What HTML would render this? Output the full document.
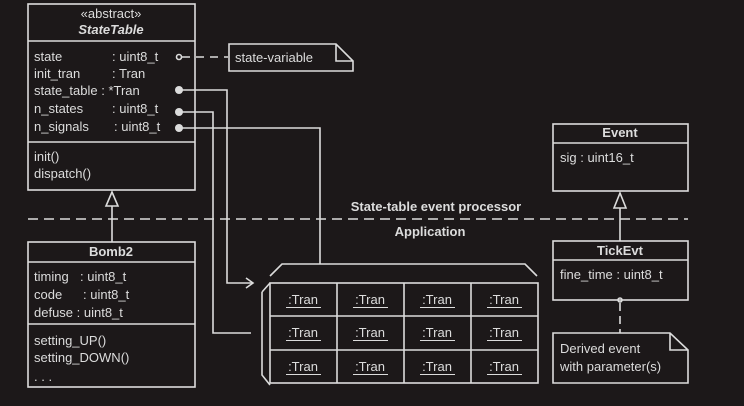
<!DOCTYPE html>
<html><head><meta charset="utf-8"><style>
body{margin:0;background:#1c1819;}
svg{display:block;}
text{font-family:"Liberation Sans",sans-serif;fill:#dcdcdc;font-size:13px;}
.b{font-weight:bold;}
</style></head><body>
<svg width="744" height="406" viewBox="0 0 744 406" xmlns="http://www.w3.org/2000/svg">
<rect width="744" height="406" fill="#1c1819"/>
<g stroke="#dcdcdc" stroke-width="1.6" fill="none">
<rect x="28" y="4" width="167" height="186"/>
<line x1="28" y1="41" x2="195" y2="41"/>
<line x1="28" y1="142" x2="195" y2="142"/>
<polygon points="112,192 106,206 118,206"/>
<line x1="112" y1="206" x2="112" y2="242"/>
<line x1="28" y1="219" x2="688" y2="219" stroke-dasharray="10,6"/>
<rect x="28" y="242" width="167" height="145"/>
<line x1="28" y1="262" x2="195" y2="262"/>
<line x1="28" y1="324" x2="195" y2="324"/>
<circle cx="179" cy="57" r="2.5"/>
<line x1="182" y1="57" x2="228" y2="57" stroke-dasharray="8,6"/>
<path d="M229,44 H336 L353,61 V71 H229 Z M336,44 V61 H353"/>
<polyline points="179,90 227,90 227,283 253,283"/>
<polyline points="246,278 253,283 246,288"/>
<polyline points="179,112 213,112 213,333 251,333"/>
<polyline points="179,128 320,128 320,264"/>
<polyline points="270,276 282,264 525,264 537,276"/>
<polyline points="262,292 262,375 270,385"/>
<line x1="262" y1="292" x2="270" y2="283"/>
<rect x="270" y="283" width="268" height="100"/>
<line x1="270" y1="316" x2="538" y2="316"/>
<line x1="270" y1="350" x2="538" y2="350"/>
<line x1="337" y1="283" x2="337" y2="383"/>
<line x1="404" y1="283" x2="404" y2="383"/>
<line x1="471" y1="283" x2="471" y2="383"/>
<rect x="553" y="124" width="135" height="67"/>
<line x1="553" y1="143" x2="688" y2="143"/>
<polygon points="620,193 614,208 626,208"/>
<line x1="620" y1="208" x2="620" y2="241"/>
<rect x="553" y="241" width="135" height="59"/>
<line x1="553" y1="260" x2="688" y2="260"/>
<circle cx="620" cy="300" r="2"/>
<line x1="620" y1="303" x2="620" y2="333" stroke-dasharray="8,5"/>
<path d="M553,333 H670 L688,350 V383 H553 Z M670,333 V350 H688"/>
</g>
<g stroke="#dcdcdc" stroke-width="1">
<line x1="286" y1="307.5" x2="321" y2="307.5"/><line x1="353" y1="307.5" x2="388" y2="307.5"/><line x1="420" y1="307.5" x2="455" y2="307.5"/><line x1="487" y1="307.5" x2="522" y2="307.5"/>
<line x1="286" y1="340.5" x2="321" y2="340.5"/><line x1="353" y1="340.5" x2="388" y2="340.5"/><line x1="420" y1="340.5" x2="455" y2="340.5"/><line x1="487" y1="340.5" x2="522" y2="340.5"/>
<line x1="286" y1="374.5" x2="321" y2="374.5"/><line x1="353" y1="374.5" x2="388" y2="374.5"/><line x1="420" y1="374.5" x2="455" y2="374.5"/><line x1="487" y1="374.5" x2="522" y2="374.5"/>
</g>
<g fill="#dcdcdc">
<circle cx="179" cy="90" r="4"/>
<circle cx="179" cy="112" r="4"/>
<circle cx="179" cy="128" r="4"/>
</g>
<text x="111" y="18" text-anchor="middle">«abstract»</text>
<text x="111" y="34" text-anchor="middle" class="b" font-style="italic">StateTable</text>
<text x="34" y="61">state</text><text x="112" y="61">: uint8_t</text>
<text x="34" y="78">init_tran</text><text x="112" y="78">: Tran</text>
<text x="34" y="95">state_table : *Tran</text>
<text x="34" y="113">n_states</text><text x="112" y="113">: uint8_t</text>
<text x="34" y="131">n_signals</text><text x="114" y="131">: uint8_t</text>
<text x="34" y="161">init()</text>
<text x="34" y="178">dispatch()</text>
<text x="235" y="62">state-variable</text>
<text x="436" y="211" text-anchor="middle" class="b">State-table event processor</text>
<text x="430" y="236" text-anchor="middle" class="b">Application</text>
<text x="111" y="256" text-anchor="middle" class="b">Bomb2</text>
<text x="34" y="281">timing</text><text x="80" y="281">: uint8_t</text>
<text x="34" y="299">code</text><text x="83" y="299">: uint8_t</text>
<text x="34" y="317">defuse : uint8_t</text>
<text x="34" y="345">setting_UP()</text>
<text x="34" y="362">setting_DOWN()</text>
<text x="34" y="381">. . .</text>
<g text-anchor="middle">
<text x="303" y="304">:Tran</text><text x="370" y="304">:Tran</text><text x="437" y="304">:Tran</text><text x="504" y="304">:Tran</text>
<text x="303" y="337">:Tran</text><text x="370" y="337">:Tran</text><text x="437" y="337">:Tran</text><text x="504" y="337">:Tran</text>
<text x="303" y="371">:Tran</text><text x="370" y="371">:Tran</text><text x="437" y="371">:Tran</text><text x="504" y="371">:Tran</text>
</g>
<text x="620" y="137" text-anchor="middle" class="b">Event</text>
<text x="560" y="162">sig : uint16_t</text>
<text x="620" y="255" text-anchor="middle" class="b">TickEvt</text>
<text x="560" y="279">fine_time : uint8_t</text>
<text x="560" y="353">Derived event</text>
<text x="560" y="371">with parameter(s)</text>
</svg>
</body></html>
